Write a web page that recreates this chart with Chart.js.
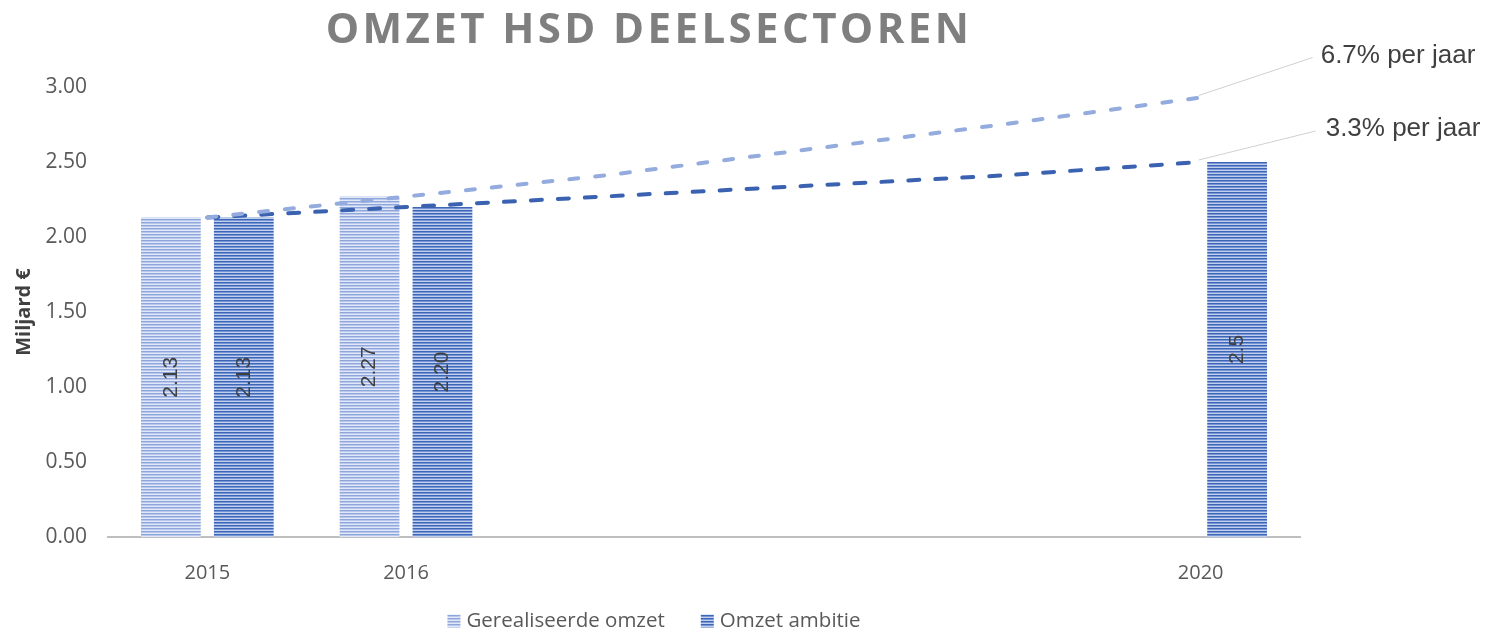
<!DOCTYPE html>
<html>
<head>
<meta charset="utf-8">
<script src="https://cdn.jsdelivr.net/npm/chart.js@4"></script>
<style>
  body { margin: 0; background: #fff; }
  #wrap { position: relative; width: 1496px; height: 632px; }
  #title {
    position: absolute; left: 0; top: 1px; width: 1298px; text-align: center;
    font: bold 42px "Open Sans", sans-serif; letter-spacing: 3.4px; color: #7f7f7f;
    line-height: 52px;
  }
</style>
</head>
<body>
<div id="wrap">
  <canvas id="omzetChart" width="1496" height="632"></canvas>
  <div id="title">OMZET HSD DEELSECTOREN</div>
</div>
<script>
const years = ['2015', '2016', '2017', '2018', '2019', '2020'];
const tickLabels = ['2015', '2016', '', '', '', '2020'];
const gerealiseerd = [2.13, 2.27, null, null, null, null];
const ambitie = [2.13, 2.20, null, null, null, 2.5];
const gerealiseerdLabels = ['2.13', '2.27', '', '', '', ''];
const ambitieLabels = ['2.13', '2.20', '', '', '', '2.5'];
const trendHoog = [2.13, 2.27, 2.41, 2.58, 2.75, 2.93];
const trendLaag = [2.13, 2.20, 2.27, 2.34, 2.41, 2.50];
const trendLabels = ['6.7% per jaar', '3.3% per jaar'];

// horizontal stripes like the original fill
function stripes(c1, c2, c3) {
    const p = document.createElement('canvas');
    p.width = 4; p.height = 3;
    const g = p.getContext('2d');
    g.fillStyle = c1; g.fillRect(0, 0, 4, 1);
    g.fillStyle = c2; g.fillRect(0, 1, 4, 1);
    g.fillStyle = c3; g.fillRect(0, 2, 4, 1);
    return g.createPattern(p, 'repeat');
}

const ctx = document.getElementById('omzetChart').getContext('2d');
const lichtFill = stripes('#8ea6db', '#b9c8eb', '#e0e7f6');
const donkerFill = stripes('#3d66b6', '#7896d3', '#c0cfee');

const barLabelPlugin = {
    id: 'barLabels',
    afterDatasetsDraw(chart) {
        const c = chart.ctx;
        const sets = [gerealiseerdLabels, ambitieLabels];
        c.save();
        c.font = '21px "Liberation Sans", Arial, sans-serif';
        c.fillStyle = '#404040';
        c.textAlign = 'center';
        c.textBaseline = 'middle';
        sets.forEach((labels, di) => {
            chart.getDatasetMeta(di + 2).data.forEach((el, i) => {
                if (!labels[i]) return;
                c.save();
                c.translate(el.x, (el.y + el.base) / 2);
                c.rotate(-Math.PI / 2);
                c.fillText(labels[i], 0, 0);
                c.restore();
            });
        });
        c.restore();
    }
};

const trendLabelPlugin = {
    id: 'trendLabels',
    afterDatasetsDraw(chart) {
        const c = chart.ctx;
        const offsets = [[112, -40, 120], [115, -31, 125]];
        c.save();
        c.font = '26px "Liberation Sans", Arial, sans-serif';
        c.textBaseline = 'middle';
        [0, 1].forEach(di => {
            const pts = chart.getDatasetMeta(di).data;
            const last = pts[pts.length - 1];
            const o = offsets[di];
            c.strokeStyle = '#d0d0d0';
            c.lineWidth = 1;
            c.beginPath();
            c.moveTo(last.x - 2, last.y - 2);
            c.lineTo(last.x + o[0], last.y + o[1]);
            c.stroke();
            c.fillStyle = '#404040';
            c.fillText(trendLabels[di], last.x + o[2], last.y + o[1] - 2);
        });
        c.restore();
    }
};

const legendPlugin = {
    id: 'ownLegend',
    afterDraw(chart) {
        const c = chart.ctx;
        const items = [2, 3].map(i => chart.data.datasets[i]);
        c.save();
        c.font = '20.5px "Open Sans", sans-serif';
        c.textBaseline = 'middle';
        const box = 13, gapBox = 6, gapItem = 36;
        let total = 0;
        items.forEach((d, i) => {
            total += box + gapBox + c.measureText(d.label).width + (i ? 0 : gapItem);
        });
        let x = 654 - total / 2;
        const y = 621;
        items.forEach(d => {
            c.fillStyle = d.backgroundColor;
            c.fillRect(x, y - box / 2, box, box);
            x += box + gapBox;
            c.fillStyle = '#595959';
            c.fillText(d.label, x, y);
            x += c.measureText(d.label).width + gapItem;
        });
        c.restore();
    }
};

new Chart(ctx, {
    data: {
        labels: years,
        datasets: [
            {
                type: 'line',
                label: trendLabels[0],
                data: trendHoog,
                borderColor: '#94abde',
                borderWidth: 4,
                borderDash: [9, 17],
                borderCapStyle: 'round',
                pointRadius: 0,
                fill: false,
                tension: 0
            },
            {
                type: 'line',
                label: trendLabels[1],
                data: trendLaag,
                borderColor: '#3a62b0',
                borderWidth: 4,
                borderDash: [11, 16],
                borderCapStyle: 'round',
                pointRadius: 0,
                fill: false,
                tension: 0
            },
            {
                type: 'bar',
                label: 'Gerealiseerde omzet',
                data: gerealiseerd,
                backgroundColor: lichtFill,
                categoryPercentage: 0.734,
                barPercentage: 0.82
            },
            {
                type: 'bar',
                label: 'Omzet ambitie',
                data: ambitie,
                backgroundColor: donkerFill,
                categoryPercentage: 0.734,
                barPercentage: 0.82
            }
        ]
    },
    options: {
        responsive: false,
        animation: false,
        layout: { padding: { left: 0, top: 87, right: 196, bottom: 0 } },
        plugins: {
            legend: { display: false },
            tooltip: { enabled: false },
            title: { display: false }
        },
        scales: {
            x: {
                grid: { display: false, drawTicks: false },
                border: { display: true, color: '#bfbfbf', width: 2 },
                ticks: {
                    padding: 24,
                    color: '#595959',
                    font: { family: 'Open Sans', size: 20 },
                    autoSkip: false,
                    maxRotation: 0,
                    callback: (v, i) => tickLabels[i]
                },
                afterFit: s => { s.height = 95; }
            },
            y: {
                min: 0,
                max: 3,
                grid: { display: false, drawTicks: false },
                border: { display: false },
                ticks: {
                    stepSize: 0.5,
                    padding: 21,
                    color: '#595959',
                    font: { family: 'Open Sans', size: 21 },
                    callback: v => v.toFixed(2)
                },
                title: {
                    display: true,
                    text: 'Miljard €',
                    color: '#404040',
                    font: { family: 'Open Sans', size: 20, weight: 'bold' },
                    padding: { top: 12, bottom: 0 }
                },
                afterFit: s => { s.width = 108; }
            }
        }
    },
    plugins: [barLabelPlugin, trendLabelPlugin, legendPlugin]
});
</script>
</body>
</html>
